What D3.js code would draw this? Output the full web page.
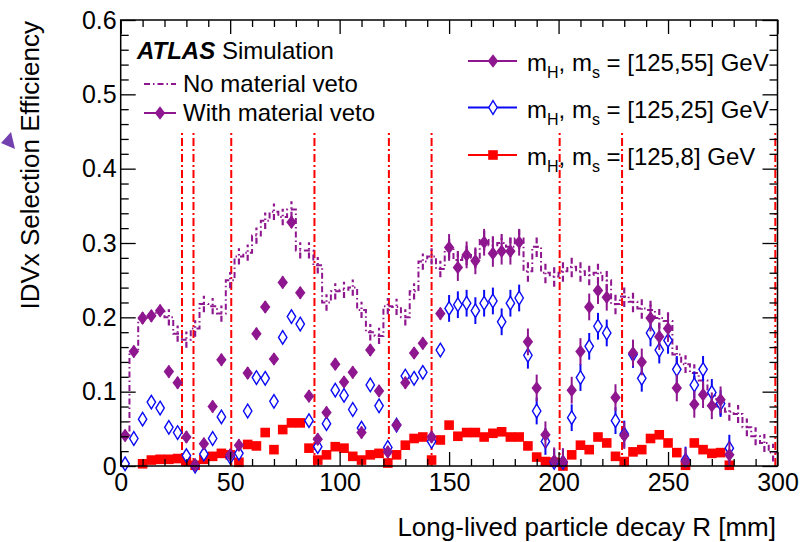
<!DOCTYPE html>
<html><head><meta charset="utf-8">
<script src="https://cdn.jsdelivr.net/npm/d3@7/dist/d3.min.js"></script>
<style>
body{margin:0;background:#fff}
svg text{font-family:"Liberation Sans",Arial,Helvetica,sans-serif;}
</style>
</head><body>
<svg id="c" width="801" height="542"></svg>
<script>
// ---------------- DATA ----------------
// bin centres [mm], 4 mm bins
const binCenters = [2,6,10,14,18,22,26,30,34,38,42,46,50,54,58,62,66,70,74,78,82,86,90,94,98,
  102,106,110,114,118,122,126,130,134,138,142,146,150,154,158,162,166,170,174,178,182,186,190,194,198,
  202,206,210,214,218,222,226,230,234,238,242,246,250,254,258,262,266,270,274,278,282,286,290,294,298];
const binWidth = 4;

// "No material veto" histogram, mH,ms=[125,55]
const noVeto = [0.040,0.155,0.198,0.203,0.210,0.200,0.178,0.170,0.185,0.218,0.215,0.205,0.250,0.282,0.287,
  0.310,0.330,0.342,0.335,0.345,0.290,0.290,0.270,0.220,0.235,0.237,0.240,0.210,0.180,0.175,
  0.215,0.214,0.200,0.235,0.275,0.282,0.265,0.293,0.277,0.284,0.280,0.304,0.297,0.300,0.295,
  0.306,0.262,0.295,0.260,0.255,0.262,0.268,0.262,0.257,0.260,0.250,0.218,0.228,0.221,0.212,
  0.210,0.199,0.195,0.150,0.137,0.125,0.115,0.095,0.080,0.073,0.070,0.052,0.040,0.031,0.018];

// With material veto, mH,ms=[125,55]
const veto55 = [0.041,0.154,0.199,0.202,0.209,0.127,0.112,0.039,0.001,0.030,0.080,0.143,0.015,0.028,0.125,
  0.178,0.214,0.144,0.247,0.328,0.233,0.094,0.036,0.072,0.137,0.113,0.126,0.045,0.156,0.101,
  0.019,0.055,0.112,0.152,0.165,0.039,0.205,0.294,0.267,0.284,0.276,0.301,0.286,0.289,0.289,
  0.301,0.167,0.105,0.042,0.007,0.006,0.102,0.154,0.214,0.236,0.227,0.092,0.041,0.152,0.140,
  0.199,0.174,0.185,0.105,0.006,0.083,0.096,0.081,0.089,0.015,null,null,null,null,null];

// With material veto, mH,ms=[125,25]
const veto25 = [0.003,0.037,0.063,0.086,0.078,0.052,0.045,0.014,0.000,0.016,0.037,0.066,0.012,0.017,0.074,
  0.119,0.118,0.087,0.173,0.201,0.191,0.061,0.026,0.057,0.102,0.095,0.076,0.051,0.109,0.081,
  0.025,0.055,0.121,0.118,0.126,0.033,0.156,0.212,0.217,0.219,0.209,0.219,0.222,0.194,0.219,
  0.226,0.149,0.074,0.033,0.005,0.005,0.065,0.119,0.161,0.188,0.179,0.061,0.043,0.150,0.118,
  0.179,0.156,0.169,0.130,0.008,0.109,0.130,0.099,0.084,0.024,null,null,null,null,null];

// With material veto, mH,ms=[125,8]
const veto8 = [null,null,0.003,0.008,0.009,0.009,0.010,0.006,0.001,0.009,0.013,0.017,0.015,0.005,0.029,
  0.027,0.045,0.022,0.049,0.058,0.058,0.024,0.008,0.015,0.026,0.024,0.013,0.008,0.015,0.017,
  0.004,0.015,0.028,0.037,0.039,0.008,0.035,0.055,0.040,0.045,0.045,0.039,0.044,0.046,0.039,
  0.039,0.027,0.012,0.006,0.005,0.000,0.015,0.028,0.022,0.039,0.031,0.013,0.006,0.019,0.022,
  0.037,0.042,0.031,0.018,0.001,0.031,0.022,0.017,0.018,0.001,null,null,null,null,null];

// statistical uncertainty per range of bins [firstBin, lastBin, error]
const errNoVeto = [[0,4,0.006],[5,36,0.011],[37,61,0.014],[62,74,0.012]];
const err55 = [[0,36,0.008],[37,74,0.018]];
const err25 = [[0,36,0.008],[37,74,0.018]];
const err8  = [[0,74,0.004]];

// material layer radii [mm]
const materialR = [28, 33.25, 50.5, 88.5, 122.5, 142, 200.5, 229, 299];
const materialTop = 0.45;

const xMajor = [0,50,100,150,200,250,300];
const yMajor = [0,0.1,0.2,0.3,0.4,0.5,0.6];
const xTitle = "Long-lived particle decay R [mm]";
const yTitle = "IDVx Selection Efficiency";
const legendLeft = ["No material veto","With material veto"];
const legendRight = [["125,55"],["125,25"],["125,8"]];

// ---------------- DRAW ----------------
const PURPLE = "#8e168e", BLUE = "#0a0af5", RED = "#ff0000";
const svg = d3.select("#c");
const x = d3.scaleLinear().domain([0,300]).range([120.7,777.5]);
const y = d3.scaleLinear().domain([0,0.6]).range([466,20]);
const FONT = "'Liberation Sans',Arial,Helvetica,sans-serif";

function errOf(ranges,i){for(const r of ranges){if(i>=r[0]&&i<=r[1])return r[2];}return 0;}

const plot = svg.append("g");

// material lines
plot.selectAll("line.mat").data(materialR).join("line")
  .attr("x1",d=>x(d)).attr("x2",d=>x(d))
  .attr("y1",y(0)).attr("y2",y(materialTop))
  .attr("stroke",RED).attr("stroke-width",2).attr("stroke-dasharray","8,3,2,3");

// no-veto step histogram
let pathD = "";
noVeto.forEach((v,i)=>{
  const x0 = x(binCenters[i]-binWidth/2), x1 = x(binCenters[i]+binWidth/2);
  if(i===0) pathD += `M${x0},${y(v)}`; else pathD += `L${x0},${y(v)}`;
  pathD += `L${x1},${y(v)}`;
});
plot.append("path").attr("d",pathD).attr("fill","none")
  .attr("stroke",PURPLE).attr("stroke-width",2).attr("stroke-dasharray","6,3,1.5,3");
plot.selectAll("line.nverr").data(noVeto).join("line")
  .attr("x1",(d,i)=>x(binCenters[i])).attr("x2",(d,i)=>x(binCenters[i]))
  .attr("y1",(d,i)=>y(Math.max(0,d-errOf(errNoVeto,i)))).attr("y2",(d,i)=>y(d+errOf(errNoVeto,i)))
  .attr("stroke",PURPLE).attr("stroke-width",2.2).attr("stroke-dasharray","6,3,1.5,3");

function series(vals, errs, color, sw){
  const idx = vals.map((v,i)=>i).filter(i=>vals[i]!==null);
  plot.append("g").selectAll("line").data(idx).join("line")
    .attr("x1",i=>x(binCenters[i])).attr("x2",i=>x(binCenters[i]))
    .attr("y1",i=>y(Math.max(0,vals[i]-errOf(errs,i)))).attr("y2",i=>y(vals[i]+errOf(errs,i)))
    .attr("stroke",color).attr("stroke-width",sw);
  return idx;
}
const diamond = (w,h)=>`M0,${-h}L${w},0L0,${h}L${-w},0Z`;

// red squares
const i8 = series(veto8, err8, RED, 1.5);
plot.append("g").selectAll("rect").data(i8).join("rect")
  .attr("x",i=>x(binCenters[i])-4.8).attr("y",i=>y(veto8[i])-4.8)
  .attr("width",9.6).attr("height",9.6).attr("fill",RED);

// blue open diamonds
const i25 = series(veto25, err25, BLUE, 2);
plot.append("g").selectAll("path").data(i25).join("path")
  .attr("transform",i=>`translate(${x(binCenters[i])},${y(veto25[i])})`)
  .attr("d",diamond(4.2,6.8)).attr("fill","#fff").attr("stroke",BLUE).attr("stroke-width",1.4);

// purple filled diamonds
const i55 = series(veto55, err55, PURPLE, 2);
plot.append("g").selectAll("path").data(i55).join("path")
  .attr("transform",i=>`translate(${x(binCenters[i])},${y(veto55[i])})`)
  .attr("d",diamond(5.2,6.8)).attr("fill",PURPLE);

// axes
function styleAxis(g){ g.select(".domain").remove(); g.attr("font-family",FONT).attr("font-size",25); g.selectAll("line").attr("stroke","#000").attr("stroke-width",1.3); }
const xMinor = d3.range(0,301,10).filter(v=>v%50!==0);
const yMinor = d3.range(0,0.6001,0.02).filter(v=>Math.abs(v*10-Math.round(v*10))>1e-6);
svg.append("g").attr("transform",`translate(0,${y(0)})`)
  .call(d3.axisBottom(x).tickValues(xMajor).tickSize(-14).tickPadding(7).tickFormat(d=>String(d))).call(styleAxis);
svg.append("g").attr("transform",`translate(0,${y(0)})`)
  .call(d3.axisBottom(x).tickValues(xMinor).tickSize(-7).tickFormat("")).call(styleAxis);
svg.append("g").attr("transform",`translate(0,${y(0.6)})`)
  .call(d3.axisTop(x).tickValues(xMajor).tickSize(-14).tickFormat("")).call(styleAxis);
svg.append("g").attr("transform",`translate(0,${y(0.6)})`)
  .call(d3.axisTop(x).tickValues(xMinor).tickSize(-7).tickFormat("")).call(styleAxis);
svg.append("g").attr("transform",`translate(${x(0)},0)`)
  .call(d3.axisLeft(y).tickValues(yMajor).tickSize(-15).tickPadding(4).tickFormat(d=>d===0?"0":d.toFixed(1))).call(styleAxis);
svg.append("g").attr("transform",`translate(${x(0)},0)`)
  .call(d3.axisLeft(y).tickValues(yMinor).tickSize(-8).tickFormat("")).call(styleAxis);
svg.append("g").attr("transform",`translate(${x(300)},0)`)
  .call(d3.axisRight(y).tickValues(yMajor).tickSize(-15).tickFormat("")).call(styleAxis);
svg.append("g").attr("transform",`translate(${x(300)},0)`)
  .call(d3.axisRight(y).tickValues(yMinor).tickSize(-8).tickFormat("")).call(styleAxis);

svg.append("rect").attr("x",x(0)).attr("y",y(0.6)).attr("width",x(300)-x(0)).attr("height",y(0)-y(0.6))
  .attr("fill","none").attr("stroke","#000").attr("stroke-width",1.5);

// titles
svg.append("text").attr("x",776).attr("y",536).attr("text-anchor","end")
  .attr("font-size",26).text(xTitle);
svg.append("text").attr("transform","translate(39,21) rotate(-90)").attr("text-anchor","end")
  .attr("font-size",26).text(yTitle);
svg.append("polygon").attr("points","11,132 1,143 15,149").attr("fill","#7340b0");

// ATLAS label
const at = svg.append("text").attr("x",137).attr("y",59).attr("font-size",24);
at.append("tspan").attr("font-weight","bold").attr("font-style","italic").text("ATLAS");
at.append("tspan").text(" Simulation");

// left legend
svg.append("line").attr("x1",144).attr("x2",176).attr("y1",84).attr("y2",84)
  .attr("stroke",PURPLE).attr("stroke-width",2).attr("stroke-dasharray","6,3,1.5,3");
svg.append("text").attr("x",183).attr("y",92).attr("font-size",24).text(legendLeft[0]);
svg.append("line").attr("x1",144).attr("x2",176).attr("y1",113).attr("y2",113)
  .attr("stroke",PURPLE).attr("stroke-width",2);
svg.append("path").attr("transform","translate(160,113)").attr("d",diamond(5.2,6.8)).attr("fill",PURPLE);
svg.append("text").attr("x",183).attr("y",121).attr("font-size",24).text(legendLeft[1]);

// right legend
const legY = [61, 107.5, 155];
const legCol = [PURPLE, BLUE, RED];
legendRight.forEach((lab,k)=>{
  const yy = legY[k];
  svg.append("line").attr("x1",468).attr("x2",517).attr("y1",yy).attr("y2",yy)
    .attr("stroke",legCol[k]).attr("stroke-width",2);
  if(k===0) svg.append("path").attr("transform",`translate(493,${yy})`).attr("d",diamond(5.2,6.8)).attr("fill",PURPLE);
  if(k===1) svg.append("path").attr("transform",`translate(493,${yy})`).attr("d",diamond(4.2,6.8)).attr("fill","#fff").attr("stroke",BLUE).attr("stroke-width",1.4);
  if(k===2) svg.append("rect").attr("x",488.2).attr("y",yy-4.8).attr("width",9.6).attr("height",9.6).attr("fill",RED);
  const t = svg.append("text").attr("x",527).attr("y",yy+10).attr("font-size",24);
  t.append("tspan").text("m");
  t.append("tspan").attr("font-size",16).attr("dy",7).text("H");
  t.append("tspan").attr("dy",-7).text(", m");
  t.append("tspan").attr("font-size",16).attr("dy",7).text("s");
  t.append("tspan").attr("dy",-7).text(` = [${lab[0]}] GeV`);
});
</script>
</body></html>
